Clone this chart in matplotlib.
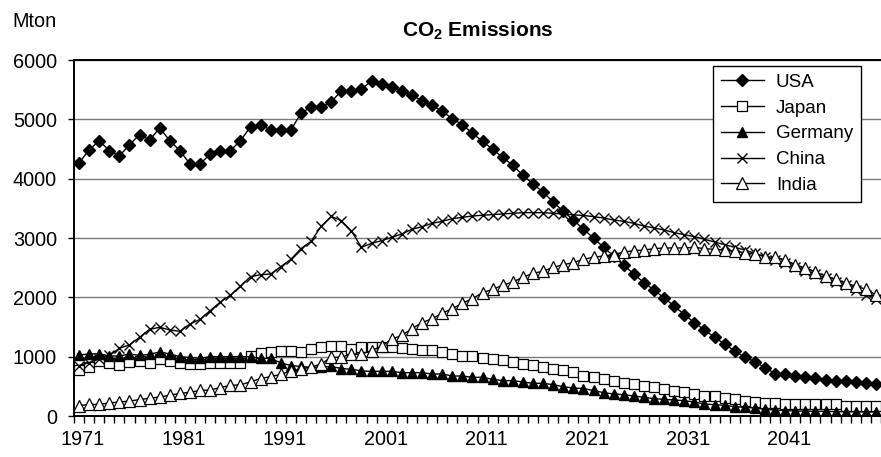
import matplotlib
matplotlib.use('Agg')
import matplotlib.pyplot as plt
import numpy as np
from matplotlib.transforms import ScaledTranslation

years = list(range(1971, 2051))

usa = [4269, 4483, 4640, 4472, 4382, 4573, 4741, 4652, 4854, 4640,
       4472, 4247, 4247, 4416, 4472, 4472, 4640, 4876, 4910, 4820,
       4820, 4820, 5102, 5210, 5200, 5292, 5483, 5483, 5506, 5652,
       5596, 5540, 5483, 5405, 5314, 5236, 5135, 5011, 4910, 4764,
       4629, 4494, 4360, 4225, 4057, 3910, 3775, 3607, 3450, 3303,
       3150, 3000, 2843, 2697, 2540, 2393, 2247, 2124, 1989, 1854,
       1708, 1573, 1450, 1326, 1214, 1090, 990, 916, 815, 715,
       705, 668, 650, 635, 607, 596, 590, 573, 551, 535]

japan = [770, 820, 930, 900, 860, 904, 933, 900, 955, 933,
         900, 870, 876, 899, 888, 888, 888, 1010, 1056, 1084,
         1101, 1101, 1073, 1130, 1157, 1180, 1180, 1124, 1157, 1157,
         1168, 1168, 1141, 1124, 1112, 1112, 1084, 1039, 1011, 1011,
         983, 955, 944, 904, 876, 860, 820, 798, 775, 742,
         680, 655, 618, 596, 562, 540, 506, 483, 450, 427,
         405, 371, 337, 337, 303, 281, 258, 236, 220, 214,
         210, 205, 205, 200, 200, 198, 175, 170, 168, 165]

germany = [1028, 1045, 1050, 1011, 1011, 1045, 1022, 1040, 1080, 1045,
           1000, 985, 972, 1000, 1000, 1000, 1000, 1000, 972, 972,
           895, 850, 835, 820, 825, 835, 800, 787, 760, 753,
           753, 753, 730, 730, 730, 708, 708, 674, 674, 652,
           652, 618, 596, 596, 573, 551, 551, 528, 494, 472,
           461, 430, 393, 371, 360, 337, 315, 292, 281, 270,
           258, 236, 202, 191, 180, 157, 146, 135, 112, 101,
           90, 85, 80, 80, 78, 75, 72, 70, 68, 67]

china = [850, 900, 960, 1020, 1140, 1200, 1326, 1461, 1495, 1450,
         1427, 1551, 1629, 1775, 1921, 2034, 2191, 2348, 2382, 2393,
         2517, 2641, 2820, 2944, 3196, 3365, 3292, 3118, 2843, 2910,
         2955, 3011, 3068, 3146, 3191, 3247, 3281, 3326, 3348, 3371,
         3383, 3394, 3405, 3416, 3427, 3427, 3427, 3416, 3405, 3390,
         3380, 3360, 3337, 3303, 3281, 3247, 3202, 3169, 3135, 3090,
         3056, 3023, 2978, 2933, 2887, 2843, 2798, 2742, 2685, 2629,
         2573, 2517, 2450, 2393, 2326, 2259, 2203, 2124, 2045, 1977]

india = [175, 195, 195, 220, 235, 252, 276, 300, 320, 350,
         380, 400, 430, 438, 480, 515, 525, 575, 632, 663,
         702, 758, 790, 826, 876, 989, 989, 1045, 1045, 1101,
         1180, 1292, 1360, 1472, 1573, 1640, 1731, 1809, 1899, 1977,
         2079, 2135, 2203, 2259, 2338, 2405, 2439, 2506, 2551, 2584,
         2640, 2675, 2697, 2719, 2764, 2786, 2798, 2820, 2832, 2832,
         2832, 2843, 2820, 2809, 2798, 2776, 2753, 2730, 2685, 2674,
         2629, 2551, 2494, 2427, 2360, 2304, 2236, 2191, 2135, 2045]

series_names = ["USA", "Japan", "Germany", "China", "India"]
tick_years = [1971, 1981, 1991, 2001, 2011, 2021, 2031, 2041]
y_ticks = [0, 1000, 2000, 3000, 4000, 5000, 6000]

plt.rcParams['font.family'] = ['Liberation Sans', 'DejaVu Sans']
plt.rcParams['mathtext.fontset'] = 'custom'
plt.rcParams['mathtext.bf'] = 'Liberation Sans:bold'
plt.rcParams['mathtext.rm'] = 'Liberation Sans'
plt.rcParams['mathtext.default'] = 'bf'

W, H = 881, 457
fig = plt.figure(figsize=(W / 100, H / 100), dpi=100)
ax = fig.add_axes([74 / W, 1 - 416 / H, 807 / W, 356 / H])

styles = [
    dict(marker='D', ms=6.2, mfc='black', mec='black'),
    dict(marker='s', ms=6.6, mfc='white', mec='black', mew=0.9),
    dict(marker='^', ms=7.6, mfc='black', mec='black'),
    dict(marker='x', ms=7.8, mfc='black', mec='black', mew=1.0),
    dict(marker='^', ms=8.0, mfc='white', mec='black', mew=0.9),
]
data = [usa, japan, germany, china, india]
for name, vals, st in zip(series_names, data, styles):
    ax.plot(years, vals, color='black', lw=1.0, label=name, **st)

ax.set_xlim(1970.5, 2050.5)
ax.set_ylim(0, 6000)
ax.set_yticks(y_ticks)
ax.set_yticklabels([str(v) for v in y_ticks])
ax.yaxis.grid(True, color='#7a7a7a', lw=1.0)
ax.set_axisbelow(True)

ax.set_xticks(tick_years)
ax.set_xticklabels([str(y) for y in tick_years])
ax.set_xticks(np.arange(1970.5, 2051, 1.0), minor=True)
ax.tick_params(axis='x', which='major', length=0, pad=10, labelsize=14.3)
ax.tick_params(axis='x', which='minor', length=5, width=1.0, direction='out')
ax.tick_params(axis='y', length=4.3, width=1.0, pad=8, labelsize=14.3, direction='out')
offset = ScaledTranslation(4 / 100, 0, fig.dpi_scale_trans)
for lbl in ax.get_xticklabels():
    lbl.set_transform(lbl.get_transform() + offset)

for s in ['left', 'bottom', 'top']:
    ax.spines[s].set_color('black')
    ax.spines[s].set_linewidth(1.4)
ax.spines['right'].set_visible(False)

leg = ax.legend(loc='upper right', bbox_to_anchor=(861 / W, 1 - 66 / H),
                bbox_transform=fig.transFigure, borderaxespad=0,
                fontsize=13.5, frameon=True, fancybox=False, framealpha=1,
                edgecolor='black', handlelength=2.3, handletextpad=0.65,
                labelspacing=0.46, borderpad=0.42)
leg.get_frame().set_linewidth(1.0)

fig.text(12 / W, 1 - 27 / H, 'Mton', fontsize=14.3, ha='left', va='baseline')
fig.text(478 / W, 1 - 36.5 / H, r'CO$_2$ Emissions', fontsize=15,
         fontweight='bold', ha='center', va='baseline')

fig.savefig('out.png', dpi=100)
